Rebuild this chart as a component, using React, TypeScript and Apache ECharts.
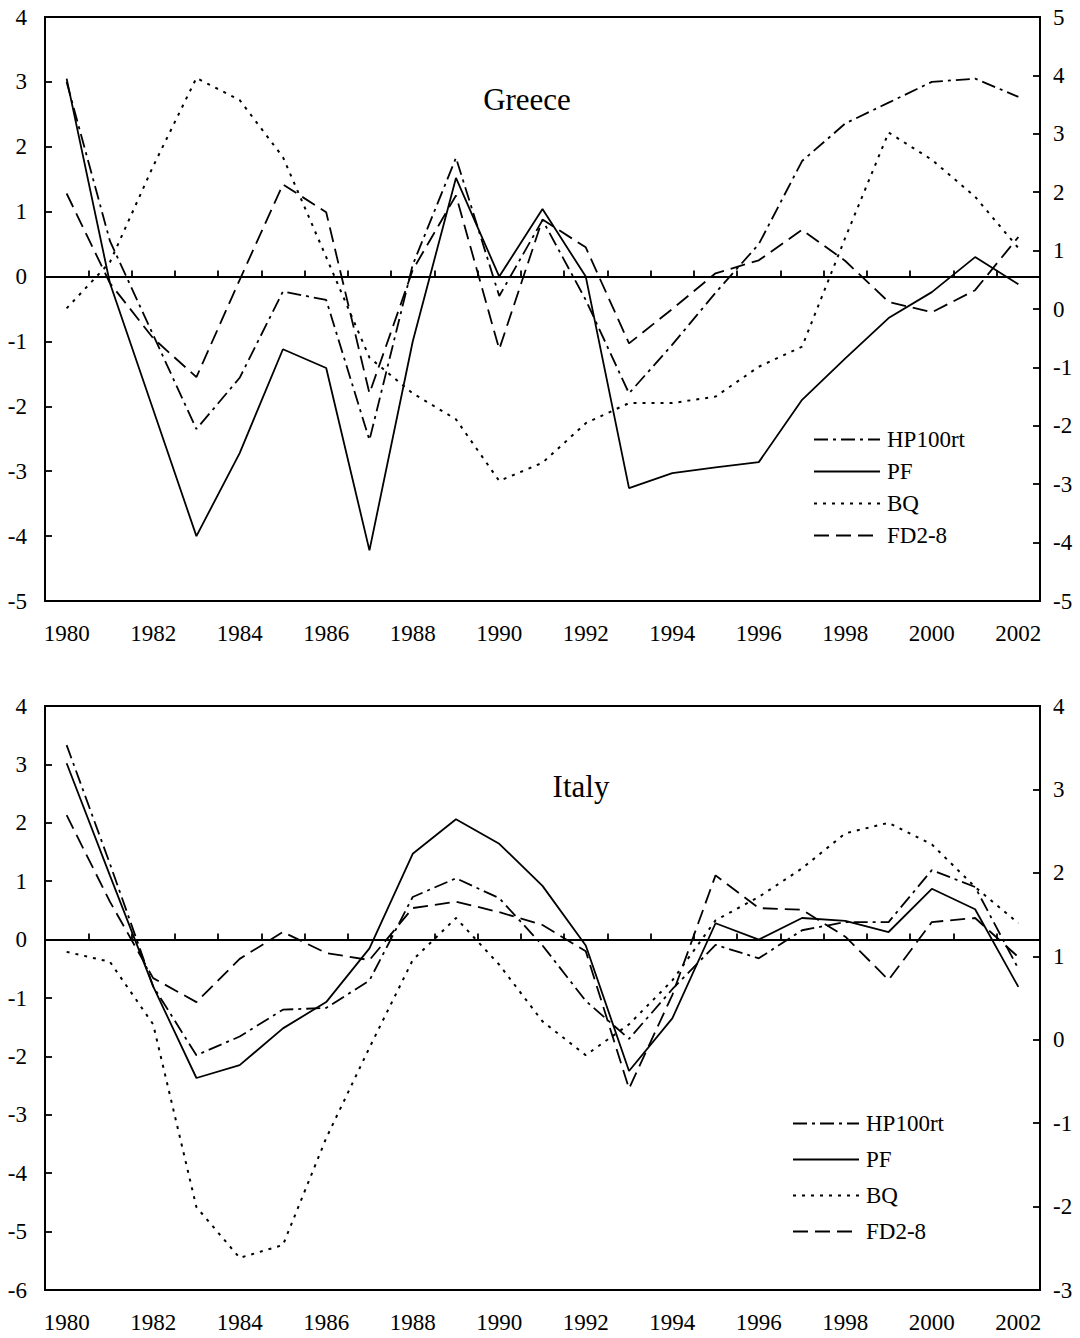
import React, { useEffect, useRef } from "react";
import * as echarts from "echarts";

const years = ["1980","1981","1982","1983","1984","1985","1986","1987","1988","1989","1990","1991","1992","1993","1994","1995","1996","1997","1998","1999","2000","2001","2002"];
const seriesNames = ["HP100rt", "PF", "BQ", "FD2-8"];

const grHP = [3.0, 0.55, -0.9, -2.35, -1.56, -0.23, -0.36, -2.52, 0.18, 1.83, -0.3, 0.87, -0.36, -1.8, -1.05, -0.25, 0.5, 1.78, 2.36, 2.68, 3.0, 3.05, 2.77];
const grPF = [3.05, -0.1, -2.05, -4.0, -2.72, -1.12, -1.41, -4.22, -1.0, 1.52, 0.0, 1.04, 0.0, -3.26, -3.03, -2.94, -2.86, -1.9, -1.26, -0.64, -0.24, 0.3, -0.12];
const grBQ = [-0.49, 0.22, 1.7, 3.06, 2.72, 1.84, 0.3, -1.25, -1.8, -2.2, -3.15, -2.87, -2.26, -1.95, -1.95, -1.85, -1.39, -1.08, 0.6, 2.22, 1.8, 1.23, 0.44];
const grFD = [1.28, -0.1, -0.95, -1.55, -0.05, 1.42, 0.99, -1.8, 0.1, 1.25, -1.12, 0.88, 0.45, -1.03, -0.5, 0.05, 0.25, 0.72, 0.24, -0.39, -0.55, -0.21, 0.61];

const itHP = [3.33, 1.3, -0.8, -1.98, -1.66, -1.2, -1.17, -0.7, 0.73, 1.05, 0.71, -0.1, -1.05, -1.7, -0.85, -0.09, -0.32, 0.16, 0.3, 0.3, 1.19, 0.9, -0.5];
const itPF = [3.02, 1.1, -0.8, -2.37, -2.15, -1.52, -1.07, -0.15, 1.47, 2.06, 1.64, 0.92, -0.1, -2.25, -1.35, 0.28, 0.0, 0.37, 0.32, 0.13, 0.87, 0.52, -0.81];
const itBQ = [-0.21, -0.38, -1.45, -4.58, -5.45, -5.23, -3.4, -1.85, -0.35, 0.37, -0.43, -1.4, -1.98, -1.45, -0.7, 0.33, 0.73, 1.22, 1.82, 2.0, 1.63, 0.9, 0.28];
const itFD = [2.13, 0.65, -0.66, -1.07, -0.33, 0.13, -0.23, -0.35, 0.54, 0.65, 0.47, 0.25, -0.2, -2.55, -0.95, 1.1, 0.54, 0.51, 0.05, -0.69, 0.3, 0.37, -0.3];

const FONT = "'Liberation Serif', 'Times New Roman', serif";

const dashStyles: any[] = [
  { type: [14, 5, 3, 5], width: 1.8 },
  { type: "solid", width: 1.8 },
  { type: [3, 6], width: 2 },
  { type: [15, 7], width: 1.8 },
];

export default function App() {
  const ref = useRef<HTMLDivElement>(null);
  useEffect(() => {
    if (!ref.current) return;
    const chart = echarts.init(ref.current, undefined, { renderer: "svg" });
    const grids = [
      { left: 45, top: 17, width: 995, height: 584 },
      { left: 45, top: 706, width: 995, height: 584 },
    ];
    const ranges = [
      { lmin: -5, lmax: 4, rmin: -5, rmax: 5 },
      { lmin: -6, lmax: 4, rmin: -3, rmax: 4 },
    ];
    const data = [
      [grHP, grPF, grBQ, grFD],
      [itHP, itPF, itBQ, itFD],
    ];
    const axisLabel = { fontFamily: FONT, fontSize: 23, color: "#000" };
    const xAxis: any[] = [];
    const yAxis: any[] = [];
    const series: any[] = [];
    grids.forEach((g, gi) => {
      xAxis.push({
        type: "category",
        gridIndex: gi,
        data: years,
        boundaryGap: true,
        axisLine: { show: true, onZero: true, onZeroAxisIndex: gi * 2, lineStyle: { color: "#000", width: 1.8 } },
        axisTick: { show: true, inside: true, length: 6, interval: 0, lineStyle: { color: "#000", width: 1.8 } },
        axisLabel: { show: false },
        splitLine: { show: false },
      });
      xAxis.push({
        type: "category",
        gridIndex: gi,
        data: years,
        boundaryGap: true,
        position: "bottom",
        axisLine: { show: true, onZero: false, lineStyle: { color: "#000", width: 2 } },
        axisTick: { show: false },
        axisLabel: { ...axisLabel, interval: 1, margin: 21 },
        splitLine: { show: false },
      });
      const r = ranges[gi];
      yAxis.push({
        type: "value",
        gridIndex: gi,
        position: "left",
        min: r.lmin,
        max: r.lmax,
        interval: 1,
        axisLine: { show: true, lineStyle: { color: "#000", width: 2 } },
        axisTick: { show: true, inside: true, length: 7, lineStyle: { color: "#000", width: 1.8 } },
        axisLabel: { ...axisLabel, margin: 18 },
        splitLine: { show: false },
      });
      yAxis.push({
        type: "value",
        gridIndex: gi,
        position: "right",
        min: r.rmin,
        max: r.rmax,
        interval: 1,
        axisLine: { show: true, lineStyle: { color: "#000", width: 2 } },
        axisTick: { show: true, inside: true, length: 7, lineStyle: { color: "#000", width: 1.8 } },
        axisLabel: { ...axisLabel, margin: 13 },
        splitLine: { show: false },
      });
      seriesNames.forEach((name, si) => {
        series.push({
          name,
          type: "line",
          xAxisIndex: gi * 2,
          yAxisIndex: gi * 2,
          data: data[gi][si],
          symbol: "none",
          lineStyle: { color: "#000", ...dashStyles[si] },
          itemStyle: { color: "#000" },
          z: 3,
        });
      });
    });
    const legendBase = {
      orient: "vertical",
      itemWidth: 66,
      itemHeight: 14,
      itemStyle: { color: "rgba(0,0,0,0)", borderColor: "rgba(0,0,0,0)", borderWidth: 0, opacity: 0 },
      textStyle: { fontFamily: FONT, fontSize: 23, color: "#000", padding: [0, 0, 0, 2] },
      data: seriesNames,
      selectedMode: false,
      padding: 0,
    };
    chart.setOption({
      animation: false,
      backgroundColor: "#fff",
      grid: grids.map((g) => ({ ...g, show: true, borderColor: "#000", borderWidth: 2, backgroundColor: "transparent" })),
      xAxis,
      yAxis,
      series,
      legend: [
        { ...legendBase, left: 813, top: 428, itemGap: 9 },
        { ...legendBase, left: 792, top: 1112, itemGap: 13 },
      ],
      graphic: [
        { type: "text", x: 527, y: 99, style: { text: "Greece", font: `31px ${FONT}`, fill: "#000", textAlign: "center", textVerticalAlign: "middle" } },
        { type: "text", x: 581, y: 786, style: { text: "Italy", font: `31px ${FONT}`, fill: "#000", textAlign: "center", textVerticalAlign: "middle" } },
      ],
    });
    return () => chart.dispose();
  }, []);
  return <div ref={ref} style={{ position: "absolute", left: 0, top: 0, width: 1080, height: 1338 }} />;
}
